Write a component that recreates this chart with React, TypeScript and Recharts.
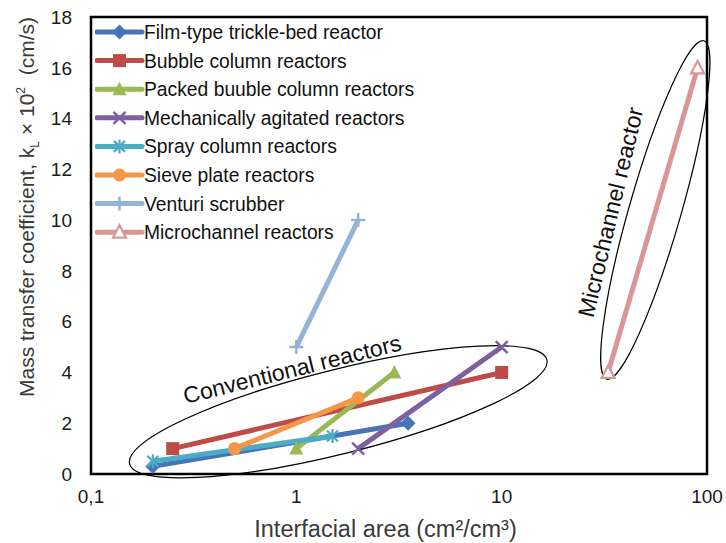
import React from 'react';
import { LineChart, Line, XAxis, YAxis, ReferenceArea, ReferenceDot, Legend } from 'recharts';

const FONT = '"Liberation Sans", Arial, sans-serif';

// interfacial area (cm2/cm3) and kL x 10^2 (cm/s) at both ends of each reactor range
const filmAreas = [0.2, 3.5];
const filmKl = [0.3, 2];
const bubbleAreas = [0.25, 10];
const bubbleKl = [1, 4];
const packedAreas = [1, 3];
const packedKl = [1, 4];
const agitatedAreas = [2, 10];
const agitatedKl = [1, 5];
const sprayAreas = [0.2, 1.5];
const sprayKl = [0.5, 1.5];
const sieveAreas = [0.5, 2];
const sieveKl = [1, 3];
const venturiAreas = [1, 2];
const venturiKl = [5, 10];
const microAreas = [33, 90];
const microKl = [4, 16];

const xTicks = [0.1, 1, 10, 100];
const yTicks = [0, 2, 4, 6, 8, 10, 12, 14, 16, 18];

type Marker = 'diamond' | 'square' | 'triangle' | 'cross' | 'star' | 'circle' | 'plus' | 'openTriangle';

const toPoints = (xs: number[], ys: number[]) => xs.map((x, i) => ({ x, y: ys[i] }));

const series: { name: string; color: string; marker: Marker; data: { x: number; y: number }[] }[] = [
  { name: 'Film-type trickle-bed reactor', color: '#4674B6', marker: 'diamond', data: toPoints(filmAreas, filmKl) },
  { name: 'Bubble column reactors', color: '#BE4B48', marker: 'square', data: toPoints(bubbleAreas, bubbleKl) },
  { name: 'Packed buuble column reactors', color: '#98B954', marker: 'triangle', data: toPoints(packedAreas, packedKl) },
  { name: 'Mechanically agitated reactors', color: '#7D60A0', marker: 'cross', data: toPoints(agitatedAreas, agitatedKl) },
  { name: 'Spray column reactors', color: '#4BACC6', marker: 'star', data: toPoints(sprayAreas, sprayKl) },
  { name: 'Sieve plate reactors', color: '#F79646', marker: 'circle', data: toPoints(sieveAreas, sieveKl) },
  { name: 'Venturi scrubber', color: '#95B3D7', marker: 'plus', data: toPoints(venturiAreas, venturiKl) },
  { name: 'Microchannel reactors', color: '#D99694', marker: 'openTriangle', data: toPoints(microAreas, microKl) },
];

function renderMarker(kind: Marker, cx: number, cy: number, color: string, key?: string | number) {
  switch (kind) {
    case 'diamond':
      return <polygon key={key} points={`${cx},${cy - 7.5} ${cx + 7.5},${cy} ${cx},${cy + 7.5} ${cx - 7.5},${cy}`} fill={color} />;
    case 'square':
      return <rect key={key} x={cx - 6.5} y={cy - 6.5} width={13} height={13} fill={color} />;
    case 'triangle':
      return <polygon key={key} points={`${cx},${cy - 7.5} ${cx + 7},${cy + 6} ${cx - 7},${cy + 6}`} fill={color} />;
    case 'cross':
      return (
        <path key={key} d={`M${cx - 6},${cy - 6}L${cx + 6},${cy + 6}M${cx + 6},${cy - 6}L${cx - 6},${cy + 6}`}
          stroke={color} strokeWidth={2.5} fill="none" />
      );
    case 'star':
      return (
        <path key={key}
          d={`M${cx - 5.5},${cy - 5.5}L${cx + 5.5},${cy + 5.5}M${cx + 5.5},${cy - 5.5}L${cx - 5.5},${cy + 5.5}M${cx},${cy - 7}L${cx},${cy + 7}`}
          stroke={color} strokeWidth={2.2} fill="none" />
      );
    case 'circle':
      return <circle key={key} cx={cx} cy={cy} r={6.5} fill={color} />;
    case 'plus':
      return (
        <path key={key} d={`M${cx - 7},${cy}L${cx + 7},${cy}M${cx},${cy - 7}L${cx},${cy + 7}`}
          stroke={color} strokeWidth={2.5} fill="none" />
      );
    case 'openTriangle':
      return (
        <polygon key={key} points={`${cx},${cy - 7} ${cx + 6.5},${cy + 5.5} ${cx - 6.5},${cy + 5.5}`}
          fill="#fff" stroke={color} strokeWidth={2.2} />
      );
  }
}

const LegendBox = () => (
  <svg width={330} height={235} style={{ display: 'block' }}>
    {series.map((s, i) => {
      const cy = 14 + i * 28.6;
      return (
        <g key={s.name}>
          <line x1={2} x2={47} y1={cy} y2={cy} stroke={s.color} strokeWidth={5} strokeLinecap="round" />
          {renderMarker(s.marker, 24.5, cy, s.color)}
          <text x={49} y={cy} dy="0.36em" fontSize={19.3} fontFamily={FONT} fill="#111">{s.name}</text>
        </g>
      );
    })}
  </svg>
);

const XTitle = (props: any) => {
  const vb = props.viewBox || { x: 91, y: 474, width: 616, height: 69 };
  return (
    <text x={vb.x + vb.width / 2 - 13.5} y={vb.y + 63} textAnchor="middle" fontSize={23.5} fontFamily={FONT} fill="#3a3a3a">
      Interfacial area (cm²/cm³)
    </text>
  );
};

const YTitle = (props: any) => {
  const vb = props.viewBox || { x: 0, y: 17, width: 91, height: 457 };
  const cx = vb.x + 34;
  const cy = vb.y + 190;
  return (
    <text transform={`translate(${cx},${cy}) rotate(-90)`} textAnchor="middle" fontSize={21} fontFamily={FONT} fill="#3a3a3a">
      Mass transfer coefficient, k
      <tspan fontSize={12} dy={5}>L</tspan>
      <tspan dy={-5}> × 10</tspan>
      <tspan fontSize={12} dy={-9}>2</tspan>
      <tspan dy={9}>{'\u00a0 (cm/s)'}</tspan>
    </text>
  );
};

// outline groups drawn around the reactor families
const conventionalCenter = { x: 1.6, y: 2.45 };
const microCenter = { x: 56, y: 10.4 };
const conventionalLabelAt = { x: 0.975, y: 3.82 };
const microLabelAt = { x: 37, y: 10.24 };

const groupEllipse = (rx: number, ry: number, angle: number) => (p: any) => (
  <ellipse cx={p.cx} cy={p.cy} rx={rx} ry={ry} transform={`rotate(${angle} ${p.cx} ${p.cy})`}
    fill="none" stroke="#000" strokeWidth={1.2} />
);

const groupLabel = (text: string, angle: number) => (p: any) => (
  <text x={p.cx} y={p.cy} transform={`rotate(${angle} ${p.cx} ${p.cy})`} textAnchor="middle"
    fontSize={23} fontFamily={FONT} fill="#111">
    {text}
  </text>
);

export default function App() {
  return (
    <div style={{ position: 'absolute', left: 0, top: 0, width: 726, height: 543, background: '#fff' }}>
      <LineChart width={726} height={543} margin={{ top: 17, right: 19, bottom: 0, left: 0 }}>
        <XAxis
          dataKey="x"
          type="number"
          scale="log"
          domain={[0.1, 100]}
          ticks={xTicks}
          allowDataOverflow
          axisLine={false}
          tickLine={false}
          tickSize={0}
          tickMargin={16}
          height={69}
          tick={{ fontSize: 19, fontFamily: FONT, fill: '#1a1a1a' }}
          tickFormatter={(v: number) => String(v).replace('.', ',')}
          label={{ content: XTitle }}
        />
        <YAxis
          type="number"
          domain={[0, 18]}
          ticks={yTicks}
          axisLine={false}
          tickLine={false}
          tickSize={0}
          tickMargin={19}
          width={91}
          tick={{ fontSize: 19, fontFamily: FONT, fill: '#1a1a1a' }}
          label={{ content: YTitle }}
        />
        <ReferenceArea x1={0.1} x2={100} y1={0} y2={18} fill="none" fillOpacity={0} stroke="#000" strokeWidth={2.5} />
        {series.map((s) => (
          <Line
            key={s.name}
            data={s.data}
            dataKey="y"
            name={s.name}
            type="linear"
            stroke={s.color}
            strokeWidth={5}
            isAnimationActive={false}
            dot={(p: any) => renderMarker(s.marker, p.cx, p.cy, s.color, `${s.name}-${p.index}`)}
            activeDot={false}
          />
        ))}
        <ReferenceDot x={conventionalCenter.x} y={conventionalCenter.y} r={1} ifOverflow="visible"
          shape={groupEllipse(215, 42, -14)} />
        <ReferenceDot x={microCenter.x} y={microCenter.y} r={1} ifOverflow="visible"
          shape={groupEllipse(176, 26, -74)} />
        <ReferenceDot x={conventionalLabelAt.x} y={conventionalLabelAt.y} r={1} ifOverflow="visible"
          shape={groupLabel('Conventional reactors', -14)} />
        <ReferenceDot x={microLabelAt.x} y={microLabelAt.y} r={1} ifOverflow="visible"
          shape={groupLabel('Microchannel reactor', -76.5)} />
        <Legend
          layout="vertical"
          align="center"
          verticalAlign="middle"
          wrapperStyle={{ left: 95, top: 18, width: 330, height: 235 }}
          content={() => <LegendBox />}
        />
      </LineChart>
    </div>
  );
}
